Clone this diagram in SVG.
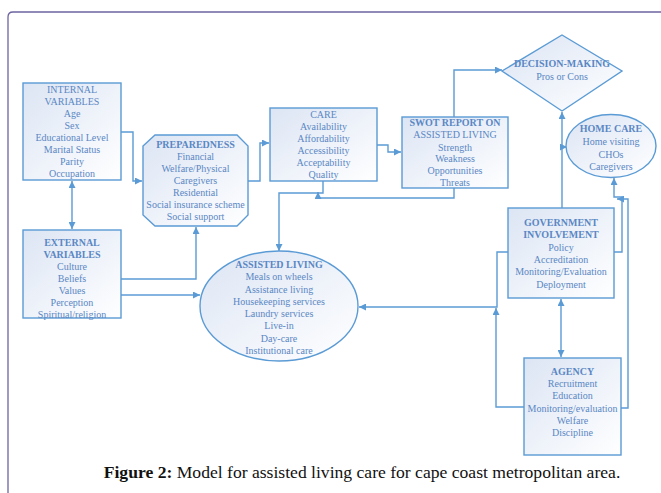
<svg xmlns="http://www.w3.org/2000/svg" width="661" height="493" viewBox="0 0 661 493">
<style>
.n{fill:url(#g);stroke:#5b9bd5;stroke-width:1.4}
.t{font-family:"Liberation Serif","Times New Roman",serif;font-size:10px;fill:#5a87c4;text-anchor:middle}
.b{font-weight:bold}
.c{fill:none;stroke:#5b9bd5;stroke-width:1.4}
.cap{font-family:"Liberation Serif","Times New Roman",serif;font-size:17.6px;fill:#111111;text-anchor:middle}
</style>
<defs>
<linearGradient id="g" x1="0" y1="0" x2="1" y2="1">
<stop offset="0" stop-color="#dce5f4"/>
<stop offset="1" stop-color="#ffffff"/>
</linearGradient>
<marker id="a" viewBox="0 0 10 10" refX="10" refY="5" markerWidth="8" markerHeight="7" markerUnits="userSpaceOnUse" orient="auto-start-reverse">
<path d="M0,0 L10,5 L0,10 z" fill="#5b9bd5"/>
</marker>
</defs>
<rect width="661" height="493" fill="#ffffff"/>
<path d="M8,493 V17 Q8,12 13,12 H661" fill="none" stroke="#6b64a0" stroke-width="1.3"/>

<g id="connectors" class="c">
<path d="M72,181 V229" marker-start="url(#a)" marker-end="url(#a)"/>
<path d="M121,132 H133 V181 H142" marker-end="url(#a)"/>
<path d="M121,279 H196 V227" marker-end="url(#a)"/>
<path d="M121,295 H200" marker-end="url(#a)"/>
<path d="M248,181 H260 V143 H269" marker-end="url(#a)"/>
<path d="M377,145 H388 V152 H401" marker-end="url(#a)"/>
<path d="M454,117 V70 H502" marker-end="url(#a)"/>
<path d="M454,188 V198 H318 V192" marker-end="url(#a)"/>
<path d="M323,181 V193 H279 V251" marker-end="url(#a)"/>
<path d="M562,208 V112" marker-end="url(#a)"/>
<path d="M562,147 H567" marker-end="url(#a)"/>
<path d="M561,299 V357" marker-start="url(#a)" marker-end="url(#a)"/>
<path d="M508,252 H497 V307 H359" marker-end="url(#a)"/>
<path d="M524,407 H496 V308" marker-end="url(#a)"/>
<path d="M614,252 H622 V197 H614 V178" marker-end="url(#a)"/>
<path d="M621,408 H628 V199 H617" marker-end="url(#a)"/>
</g>

<g id="internal">
<rect class="n" x="23" y="83" width="98" height="97"/>
<text class="t"><tspan x="72" y="92.5">INTERNAL</tspan><tspan x="72" y="104.5">VARIABLES</tspan><tspan x="72" y="116.5">Age</tspan><tspan x="72" y="128.5">Sex</tspan><tspan x="72" y="141">Educational Level</tspan><tspan x="72" y="153">Marital Status</tspan><tspan x="72" y="165">Parity</tspan><tspan x="72" y="177">Occupation</tspan></text>
</g>

<g id="external">
<rect class="n" x="23" y="230" width="98" height="88"/>
<text class="t"><tspan class="b" x="72" y="245.5">EXTERNAL</tspan><tspan class="b" x="72" y="257.5">VARIABLES</tspan><tspan x="72" y="269.5">Culture</tspan><tspan x="72" y="282">Beliefs</tspan><tspan x="72" y="294">Values</tspan><tspan x="72" y="306">Perception</tspan><tspan x="72" y="318">Spiritual/religion</tspan></text>
</g>

<g id="preparedness">
<path class="n" d="M155,135 H237 L248,146 V215 L237,226 H155 L143,215 V146 Z"/>
<text class="t"><tspan class="b" x="195.5" y="147.5">PREPAREDNESS</tspan><tspan x="195.5" y="159.5">Financial</tspan><tspan x="195.5" y="171.5">Welfare/Physical</tspan><tspan x="195.5" y="183.5">Caregivers</tspan><tspan x="195.5" y="195.5">Residential</tspan><tspan x="195.5" y="207.5">Social insurance scheme</tspan><tspan x="195.5" y="220">Social support</tspan></text>
</g>

<g id="care">
<rect class="n" x="270" y="108" width="107" height="73"/>
<text class="t"><tspan x="323.5" y="117.5">CARE</tspan><tspan x="323.5" y="129.5">Availability</tspan><tspan x="323.5" y="141.5">Affordability</tspan><tspan x="323.5" y="154">Accessibility</tspan><tspan x="323.5" y="165.5">Acceptability</tspan><tspan x="323.5" y="177.5">Quality</tspan></text>
</g>

<g id="swot">
<rect class="n" x="402" y="117" width="106" height="71"/>
<text class="t"><tspan class="b" x="455" y="125.5">SWOT REPORT ON</tspan><tspan x="455" y="137.5">ASSISTED LIVING</tspan><tspan x="455" y="150.5">Strength</tspan><tspan x="455" y="161.5">Weakness</tspan><tspan x="455" y="173.5">Opportunities</tspan><tspan x="455" y="186">Threats</tspan></text>
</g>

<g id="decision">
<path class="n" d="M562,35 L622,71 L562,111 L502,71 Z"/>
<text class="t"><tspan class="b" x="562" y="66.5">DECISION-MAKING</tspan><tspan x="562" y="79.5">Pros or Cons</tspan></text>
</g>

<g id="homecare">
<ellipse class="n" cx="611" cy="146" rx="45" ry="31.5"/>
<text class="t"><tspan class="b" x="611" y="131.5">HOME CARE</tspan><tspan x="611" y="144.5">Home visiting</tspan><tspan x="611" y="157.5">CHOs</tspan><tspan x="611" y="169.5">Caregivers</tspan></text>
</g>

<g id="assisted">
<ellipse class="n" cx="279" cy="306" rx="79" ry="55"/>
<text class="t"><tspan class="b" x="279" y="267.5">ASSISTED LIVING</tspan><tspan x="279" y="279.5">Meals on wheels</tspan><tspan x="279" y="292.5">Assistance living</tspan><tspan x="279" y="304.5">Housekeeping services</tspan><tspan x="279" y="316.5">Laundry services</tspan><tspan x="279" y="328.5">Live-in</tspan><tspan x="279" y="341.5">Day-care</tspan><tspan x="279" y="353.5">Institutional care</tspan></text>
</g>

<g id="government">
<rect class="n" x="508" y="208" width="106" height="90"/>
<text class="t"><tspan class="b" x="561" y="225.5">GOVERNMENT</tspan><tspan class="b" x="561" y="237.5">INVOLVEMENT</tspan><tspan x="561" y="250.5">Policy</tspan><tspan x="561" y="262.5">Accreditation</tspan><tspan x="561" y="274.5">Monitoring/Evaluation</tspan><tspan x="561" y="287.5">Deployment</tspan></text>
</g>

<g id="agency">
<rect class="n" x="524" y="358" width="97" height="97"/>
<text class="t"><tspan class="b" x="572.5" y="374.5">AGENCY</tspan><tspan x="572.5" y="386.5">Recruitment</tspan><tspan x="572.5" y="398.5">Education</tspan><tspan x="572.5" y="411.5">Monitoring/evaluation</tspan><tspan x="572.5" y="423.5">Welfare</tspan><tspan x="572.5" y="435.5">Discipline</tspan></text>
</g>

<text class="cap" x="362" y="477.5"><tspan font-weight="bold">Figure 2:</tspan> Model for assisted living care for cape coast metropolitan area.</text>
</svg>
